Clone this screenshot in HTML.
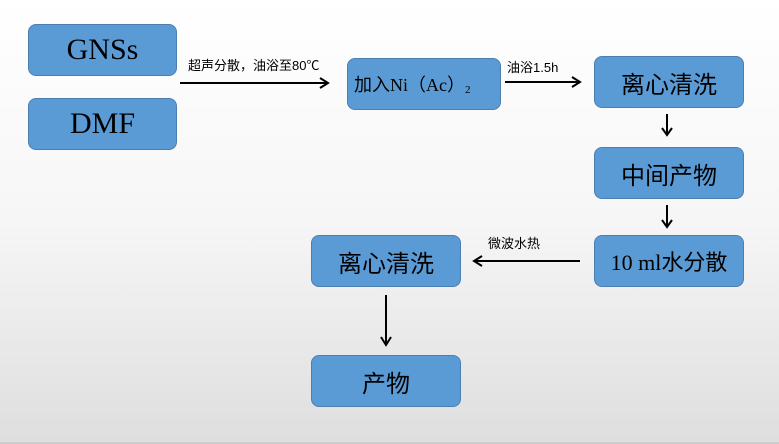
<!DOCTYPE html><html><head><meta charset="utf-8"><style>
body{margin:0;width:779px;height:444px;overflow:hidden;background:linear-gradient(#fff 0%,#f6f6f6 50%,#dedede 100%);position:relative;font-family:"Liberation Sans","Noto Sans CJK SC",sans-serif}
.b{position:absolute;background:#5b9bd5;border:1px solid #4a7fb0;border-radius:8px;box-sizing:border-box;display:flex;align-items:center;justify-content:center;color:#000;font-size:24px}
.s{font-family:"Liberation Serif","Noto Sans CJK SC",serif;font-size:30px}
.l{position:absolute;font-size:13px;color:#000;white-space:nowrap}
</style></head><body>
<div class="b s" style="left:28px;top:24px;width:149px;height:52px">GNSs</div>
<div class="b s" style="left:28px;top:98px;width:149px;height:52px">DMF</div>
<div class="b" style="left:347px;top:58px;width:154px;height:52px;font-size:18px;justify-content:flex-start;padding-left:6px;font-family:'Liberation Serif','Noto Sans CJK SC',serif">加入Ni（Ac）<sub style="font-size:11px;position:relative;top:6px">2</sub></div>
<div class="b" style="left:594px;top:56px;width:150px;height:52px">离心清洗</div>
<div class="b" style="left:594px;top:147px;width:150px;height:52px">中间产物</div>
<div class="b" style="left:594px;top:235px;width:150px;height:52px;font-size:22px;font-family:'Liberation Serif','Noto Sans CJK SC',serif">10 ml水分散</div>
<div class="b" style="left:311px;top:235px;width:150px;height:52px">离心清洗</div>
<div class="b" style="left:311px;top:355px;width:150px;height:52px">产物</div>
<div class="l" style="left:188px;top:55px">超声分散，油浴至80℃</div>
<div class="l" style="left:507px;top:57px">油浴1.5h</div>
<div class="l" style="left:488px;top:233px">微波水热</div>
<svg width="779" height="444" style="position:absolute;left:0;top:0" fill="none" stroke="#000" stroke-width="2">
<path d="M180 83H328M320 78L328 83L320 88"/>
<path d="M505 82H580M572 77L580 82L572 87"/>
<path d="M667 114V135M662 128L667 135L672 128"/>
<path d="M667 205V227M662 220L667 227L672 220"/>
<path d="M580 261H474M482 256L474 261L482 266"/>
<path d="M386 295V345M381 337L386 345L391 337"/>
<path d="M0 443H779" stroke="#bbb" stroke-width="1"/>
</svg>
</body></html>
